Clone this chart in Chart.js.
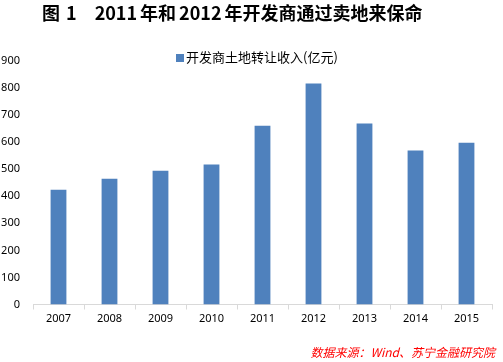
<!DOCTYPE html>
<html><head><meta charset="utf-8">
<script src="https://cdn.jsdelivr.net/npm/chart.js@4/dist/chart.umd.min.js"></script>
<style>
html,body{margin:0;padding:0;background:#fff;}
#wrap{position:relative;width:503px;height:362px;overflow:hidden;}
#c{position:absolute;left:0;top:0;}
.t{position:absolute;white-space:pre;font-family:"Noto Sans CJK SC",sans-serif;}
#title{left:42px;top:0px;font-size:18px;font-weight:bold;color:#000;line-height:24px;}
#title .g1{display:inline-block;width:6px;}
#title .g2{display:inline-block;width:18px;}
#title .g3{display:inline-block;width:3px;}
#legend{left:176px;top:48px;font-size:13px;color:#000;line-height:17px;}
#legend i{display:inline-block;width:8px;height:8px;background:#4F81BD;margin-right:2px;vertical-align:0px;}
#src{right:8px;top:344px;font-size:12px;color:#FF0000;font-style:italic;line-height:16px;}
</style></head>
<body><div id="wrap">
<canvas id="c" width="503" height="362"></canvas>
<div class="t" id="title">图<span class="g1"></span>1<span class="g2"></span>2011<span class="g3"></span>年和<span class="g3"></span>2012<span class="g3"></span>年开发商通过卖地来保命</div>
<div class="t" id="legend"><i></i>开发商土地转让收入(亿元)</div>
<div class="t" id="src">数据来源：Wind、苏宁金融研究院</div>
</div>
<script>
const categories = ["2007","2008","2009","2010","2011","2012","2013","2014","2015"];
const seriesName = "开发商土地转让收入(亿元)";
const values = [424, 465, 494, 517, 661, 817, 669, 569, 598];
const yTicks = [0,100,200,300,400,500,600,700,800,900];

new Chart(document.getElementById('c'), {
  type: 'bar',
  data: {
    labels: categories,
    datasets: [{
      label: seriesName,
      data: values,
      backgroundColor: '#4F81BD',
      borderWidth: 0,
      categoryPercentage: 1,
      barPercentage: 0.31
    }]
  },
  options: {
    responsive: false,
    animation: false,
    devicePixelRatio: 1,
    layout: { padding: { top: 61, right: 11, bottom: 0, left: 0 } },
    plugins: { legend: { display: false }, tooltip: { enabled: false }, title: { display: false } },
    scales: {
      x: {
        grid: { display: true, drawOnChartArea: false, drawTicks: true, tickLength: 5, color: '#D9D9D9', offset: true },
        border: { display: true, color: '#D9D9D9', width: 1 },
        ticks: { color: '#000', font: { family: 'Noto Sans', size: 11 }, padding: 3, maxRotation: 0 },
        afterFit: (s) => { s.height = 57.5; }
      },
      y: {
        min: 0, max: 900,
        afterBuildTicks: (s) => { s.ticks = yTicks.map(v => ({ value: v })); },
        grid: { display: false, drawTicks: false },
        border: { display: false },
        ticks: { color: '#000', font: { family: 'Noto Sans', size: 11 }, padding: 13 },
        afterFit: (s) => { s.width = 33; }
      }
    }
  }
});
</script>
</body></html>
